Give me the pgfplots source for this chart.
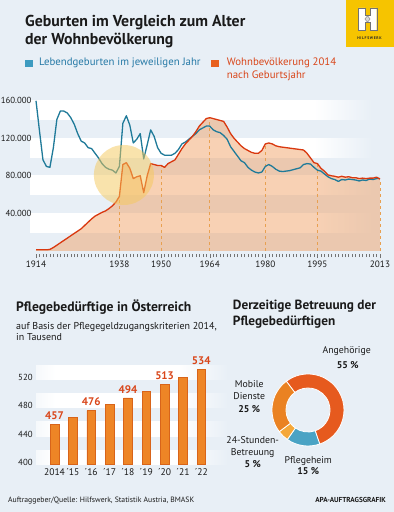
\documentclass[border=0pt]{standalone}
\usepackage{pgfplots}
\usepackage{pgfplotstable}
\pgfplotsset{compat=1.18}
\usepackage{fontspec}
\setmainfont{PT Sans}
\definecolor{bgc}{HTML}{E8EFF6}
\definecolor{txt}{HTML}{1A1A1A}
\definecolor{blueline}{HTML}{1F7A99}
\definecolor{orline}{HTML}{D9380F}
\definecolor{orfill}{HTML}{F09A5A}
\definecolor{dashc}{HTML}{E8A050}
\definecolor{bluetxt}{HTML}{2579A6}
\definecolor{bluesq}{HTML}{3D9BC0}
\definecolor{ortxt}{HTML}{D9461A}
\definecolor{orsq}{HTML}{E8601E}
\definecolor{barfill}{HTML}{EE8526}
\definecolor{bardraw}{HTML}{D8641A}
\definecolor{ang}{HTML}{E65A1E}
\definecolor{mob}{HTML}{EA8222}
\definecolor{std}{HTML}{F4A83A}
\definecolor{pfl}{HTML}{4AA3C4}
\definecolor{logoy}{HTML}{F6C400}
\definecolor{circ}{HTML}{F5C85A}
\pgfdeclarehorizontalshading{stripeA}{100bp}{color(0bp)=(white); color(64bp)=(white); color(72bp)=(bgc); color(100bp)=(bgc)}
\pgfdeclarehorizontalshading{stripeB}{100bp}{color(0bp)=(bgc); color(25bp)=(bgc!40!white); color(30bp)=(white); color(62bp)=(white); color(75bp)=(bgc); color(100bp)=(bgc)}

\pgfplotstableread{
year births pop
1914 160000 1000
1915 128000 1000
1916 97000 1000
1917 90000 1000
1918 89000 1500
1919 110000 3500
1920 140000 6000
1921 149000 8500
1922 149000 11000
1923 147000 13500
1924 142000 16000
1925 135000 18500
1926 125000 21000
1927 117000 23500
1928 115000 27000
1929 110000 30500
1930 109000 34000
1931 104000 37000
1932 99000 39000
1933 93000 41000
1934 89000 42500
1935 87000 45000
1936 86000 48000
1937 83000 52000
1938 90000 58000
1939 136000 92000
1940 144000 94000
1941 134000 88000
1942 115000 77000
1943 119000 79000
1944 125000 80000
1945 98000 62000
1946 113000 80000
1947 129000 93000
1948 122000 92000
1949 110000 91000
1950 104000 91000
1951 102000 89000
1952 102000 93000
1953 102000 95000
1954 104000 97000
1955 108000 103000
1956 114000 109000
1957 116000 114000
1958 119000 118000
1959 122000 122000
1960 125000 127000
1961 129000 133000
1962 131000 137000
1963 133000 141000
1964 133000 142000
1965 129000 141000
1966 127000 140000
1967 126000 139000
1968 123000 138000
1969 119000 132000
1970 111000 125000
1971 106000 120000
1972 101000 116000
1973 96000 112000
1974 94000 109000
1975 89000 107000
1976 86000 105000
1977 84000 104000
1978 83000 104000
1979 84000 107000
1980 90000 114000
1981 92000 115000
1982 90000 114000
1983 87000 112000
1984 85000 111000
1985 84500 110500
1986 85000 110000
1987 85500 109500
1988 86500 109000
1989 87500 108500
1990 88500 108000
1991 92000 107500
1992 93000 104000
1993 92500 99000
1994 89000 94000
1995 86000 93000
1996 85000 88000
1997 82000 85000
1998 79000 81000
1999 77000 80000
2000 76000 79500
2001 74000 78500
2002 76000 79500
2003 75500 78500
2004 76500 79000
2005 76000 78000
2006 75500 78000
2007 74500 77000
2008 75500 77500
2009 75000 77000
2010 76500 77500
2011 76000 77500
2012 77000 78500
2013 77000 76500
}\births

\pgfplotstableread{
x value
0 457
1 466
2 476
3 485
4 494
5 503
6 513
7 523
8 534
}\pflege

\newcommand{\seg}[3]{\fill[#3, draw=white, line width=0.8pt] ([shift={(#1:36pt)}]308pt,102pt) arc[start angle=#1,end angle=#2,radius=36pt] -- ([shift={(#2:22pt)}]308pt,102pt) arc[start angle=#2,end angle=#1,radius=22pt] -- cycle;}

\begin{document}
\begin{tikzpicture}
\fill[bgc] (0pt,0pt) rectangle (394pt,512pt);

\begin{scope}[x=1pt,y=1pt]
% logo
\fill[logoy] (346,465.3) rectangle (394,512);
\filldraw[fill=white, draw=black!55, line width=0.4pt] (358.3,482) -- (358.3,504) -- (365,504) -- (365,496.5) -- (370,496.5) -- (370,504) -- (376.7,504) -- (376.7,482) -- (370,482) -- (370,489.5) -- (365,489.5) -- (365,482) -- cycle;
\filldraw[fill=black!15, draw=black!60, line width=0.3pt] (367.5,489.8) -- (370.2,493) -- (367.5,496.2) -- (364.8,493) -- cycle;
\node[font=\bfseries\fontsize{3.8}{4}\selectfont, text=black!85, inner sep=0pt] at (369.5,474) {H\,I\,L\,F\,S\,W\,E\,R\,K};

% titles
\node[anchor=base west, inner sep=0pt, text=txt, font=\bfseries\fontsize{15.8}{18}\selectfont] at (25,485.3) {Geburten im Vergleich zum Alter};
\node[anchor=base west, inner sep=0pt, text=txt, font=\bfseries\fontsize{15.8}{18}\selectfont] at (25,467) {der Wohnbevölkerung};

% legend
\fill[bluesq] (25,445) rectangle (33,452);
\node[anchor=base west, inner sep=0pt, text=bluetxt, font=\fontsize{10.8}{12}\selectfont] at (39,446.3) {Lebendgeburten im jeweiligen Jahr};
\fill[orsq] (211,445) rectangle (219,452);
\node[anchor=base west, inner sep=0pt, text=ortxt, font=\fontsize{10.8}{12}\selectfont] at (226.7,446.3) {Wohnbevölkerung 2014};
\node[anchor=base west, inner sep=0pt, text=ortxt, font=\fontsize{10.8}{12}\selectfont] at (226.7,433.7) {nach Geburtsjahr};

% stripes top chart
\foreach \a in {279.95,317.45,354.95,392.45} {
  \shade[shading=stripeA] (30,\a) rectangle (394,{\a+18.75});
}
% stripes bar chart
\foreach \a in {47.5,75.9,104.3,132.7} {
  \shade[shading=stripeB] (36,\a) rectangle (228,{\a+14.2});
}

% bar chart titles
\node[anchor=base west, inner sep=0pt, text=txt, font=\bfseries\fontsize{13.6}{15}\selectfont] at (16,200.3) {Pflegebedürftige in Österreich};
\node[anchor=base west, inner sep=0pt, text=txt, font=\fontsize{10}{11}\selectfont] at (16,182.7) {auf Basis der Pflegegeldzugangskriterien 2014,};
\node[anchor=base west, inner sep=0pt, text=txt, font=\fontsize{10}{11}\selectfont] at (16,171.3) {in Tausend};

% donut title
\node[anchor=base west, inner sep=0pt, text=txt, font=\bfseries\fontsize{13.3}{15}\selectfont] at (232.7,202) {Derzeitige Betreuung der};
\node[anchor=base west, inner sep=0pt, text=txt, font=\bfseries\fontsize{13.3}{15}\selectfont] at (232.7,186.3) {Pflegebedürftigen};

\begin{scope}[every node/.style={inner sep=0pt, text=txt, font=\fontsize{9.8}{10}\selectfont, anchor=base}]
\node at (346.7,158) {Angehörige};
\node[font=\bfseries\fontsize{9.8}{10}\selectfont] at (347.7,143.7) {55 \%};
\node at (249.3,124.7) {Mobile};
\node at (249.3,112.7) {Dienste};
\node[font=\bfseries\fontsize{9.8}{10}\selectfont] at (249.3,99.7) {25 \%};
\node at (252.7,68.7) {24-Stunden-};
\node at (252.7,56.3) {Betreuung};
\node[font=\bfseries\fontsize{9.8}{10}\selectfont] at (252.7,44.3) {5 \%};
\node at (308.3,48) {Pflegeheim};
\node[font=\bfseries\fontsize{9.8}{10}\selectfont] at (308.3,37) {15 \%};
\end{scope}

% footer
\node[anchor=base west, inner sep=0pt, text=txt, font=\fontsize{7.7}{8}\selectfont] at (8,9.3) {Auftraggeber/Quelle: Hilfswerk, Statistik Austria, BMASK};
\node[anchor=base east, inner sep=0pt, text=txt, font=\bfseries\fontsize{7.2}{8}\selectfont] at (386,9.3) {APA-AUFTRAGSGRAFIK};
\end{scope}

\seg{127}{-71}{ang}
\seg{-71}{-125}{pfl}
\seg{-125}{-143}{std}
\seg{-143}{-233}{mob}

\begin{axis}[
  at={(36pt,258.4pt)}, anchor=south west, scale only axis,
  width=344pt, height=157.5pt,
  xmin=1914, xmax=2013, ymin=-3000, ymax=165000,
  axis x line*=bottom, axis y line*=left,
  x axis line style={draw=none}, y axis line style={draw=none},
  xtick={1914,1938,1950,1964,1980,1995,2013},
  xticklabels={1914,1938,1950,1964,1980,1995,2013},
  minor xtick={1914,...,2013},
  tick align=outside, major tick length=4pt, minor tick length=3.5pt,
  every tick/.style={black!55, line width=0.4pt},
  ytick={40000,80000,120000,160000},
  yticklabels={40.000,80.000,120.000,160.000},
  ytick style={draw=none},
  scaled y ticks=false,
  /pgf/number format/assume math mode=true,
  xticklabel style={font=\fontsize{9.2}{10}\selectfont, text=txt},
  yticklabel style={font=\fontsize{8.8}{10}\selectfont, text=txt, anchor=east, xshift=3pt},
  clip=false,
]
\addplot[draw=none, fill=orfill, fill opacity=0.45] table[x=year, y=pop] {\births} \closedcycle;
\addplot[ycomb, dashc, dashed, line width=0.6pt, no marks] coordinates {(1938,58000) (1950,91000) (1964,142000) (1980,114000) (1995,93000) (2013,76500)};
\addplot[blueline, line width=1.3pt, no marks, line join=round] table[x=year, y=births] {\births};
\addplot[orline, line width=1.3pt, no marks, line join=round] table[x=year, y=pop] {\births};
\fill[circ, opacity=0.5] (axis cs:1939.3,80850) circle[radius=30pt];
\end{axis}

\begin{axis}[
  at={(36.15pt,47.5pt)}, anchor=south west, scale only axis,
  width=174.35pt, height=99.4pt,
  xmin=-1, xmax=8.5, ymin=400, ymax=540,
  axis line style={draw=none}, tick style={draw=none},
  xtick={0,...,8},
  xticklabels={2014,´15,´16,´17,´18,´19,´20,´21,´22},
  ytick={400,440,480,520},
  /pgf/number format/assume math mode=true,
  xticklabel style={font=\fontsize{9.6}{10}\selectfont, text=txt, yshift=-1pt},
  yticklabel style={font=\fontsize{8.8}{10}\selectfont, text=txt, yshift=2pt},
  clip=false,
]
\addplot[ybar, bar width=8.5pt, bar shift=0pt, fill=barfill, draw=bardraw, line width=0.5pt] table[x=x, y=value] {\pflege};
\addplot[ybar, bar width=8.5pt, bar shift=0pt, draw=none, fill=none,
  nodes near coords, nodes near coords style={font=\bfseries\fontsize{11}{12}\selectfont, text=ortxt, anchor=south, yshift=1pt}]
  coordinates {(0,457) (2,476) (4,494) (6,513) (8,534)};
\end{axis}

\pgfresetboundingbox
\useasboundingbox (0pt,0pt) rectangle (394pt,512pt);
\end{tikzpicture}
\end{document}
